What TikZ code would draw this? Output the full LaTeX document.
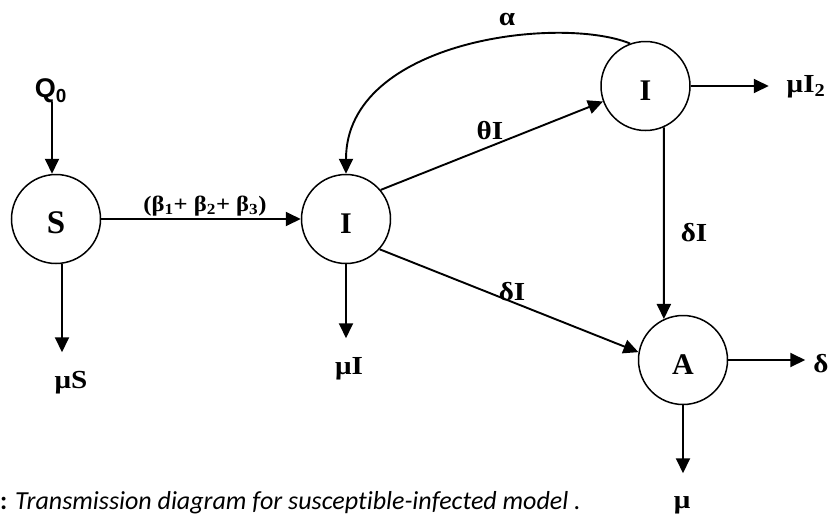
\documentclass[tikz,border=0pt]{standalone}
\usepackage{fontspec}
\setmainfont{Liberation Serif}
\newfontfamily\labfont[FakeStretch=1.12]{Liberation Serif}
\newfontfamily\qfont{Liberation Sans}
\newfontfamily\capfont[Ligatures=NoCommon]{Carlito}
\usetikzlibrary{arrows.meta,shapes.geometric}
\begin{document}
\begin{tikzpicture}[x=1pt,y=-1pt,
  state/.style={draw, line width=1.5pt, circle, inner sep=0pt, minimum size=89pt,
    text height=28pt, text depth=0pt,
    font=\fontsize{30}{30}\selectfont\bfseries},
  flow/.style={line width=1.9pt, -{Triangle[length=15pt,width=14pt]}},
  lab/.style={font=\fontsize{26}{26}\selectfont\labfont\bfseries, inner sep=0pt}]
\useasboundingbox (0,0) rectangle (828,515);
% compartments
\node[state, font=\fontsize{33}{33}\selectfont\bfseries, text height=28pt] (S) at (56,219) {S};
\node[state] (I1) at (346,219)  {I};
\node[state] (I2) at (645.5,86) {I};
\node[state] (A)  at (683,360)  {A};
% labels
\node[lab, font=\fontsize{27}{27}\selectfont\bfseries\qfont] (q0) at (51,91) {Q\textsubscript{0}};
\node[lab, font=\fontsize{22}{22}\selectfont\labfont\bfseries] (beta) at (205,206) {(β\textsubscript{1}+ β\textsubscript{2}+ β\textsubscript{3})};
\node[lab] (muS) at (71,383) {μS};
\node[lab] (muI) at (349,369) {μI};
\node[lab] (theta) at (490,131) {θI};
\node[lab] (dI1) at (512,292) {δI};
\node[lab] (dI2) at (694,233) {δI};
\node[lab] (muI2) at (806,87) {μI\textsubscript{2}};
\node[lab] (delta) at (821,364) {δ};
\node[lab, anchor=base] (mu) at (682,508) {μ};
\node[lab] (alpha) at (507,19) {α};
\node[anchor=base west, inner sep=0pt, font=\fontsize{26}{26}\selectfont\capfont] (cap) at (0,509)
  {\textbf{:} \textit{Transmission diagram for susceptible-infected model .}};
% connectors
\coordinate (qs) at (52,102);
\draw[flow] (qs) -- (qs |- S.north);
\draw[flow] (S.east) -- (I1.west);
\draw[flow] ([xshift=6pt]S.south) -- ++(0,88);
\draw[flow] (I1.south) -- ++(0,74);
\draw[flow] (I1.40) -- (I2.200);
\draw[flow] (I1.318) -- (A.170);
\draw[flow] (I2.294.6) -- (A.115.3);
\draw[flow] (I2.east) -- ++(78,0);
\draw[flow] (A.east) -- ++(77,0);
\draw[flow] (A.south) -- ++(0,68);
\draw[flow] (I2.110) .. controls (560,15) and (346,40) .. (I1.north);
\end{tikzpicture}
\end{document}
